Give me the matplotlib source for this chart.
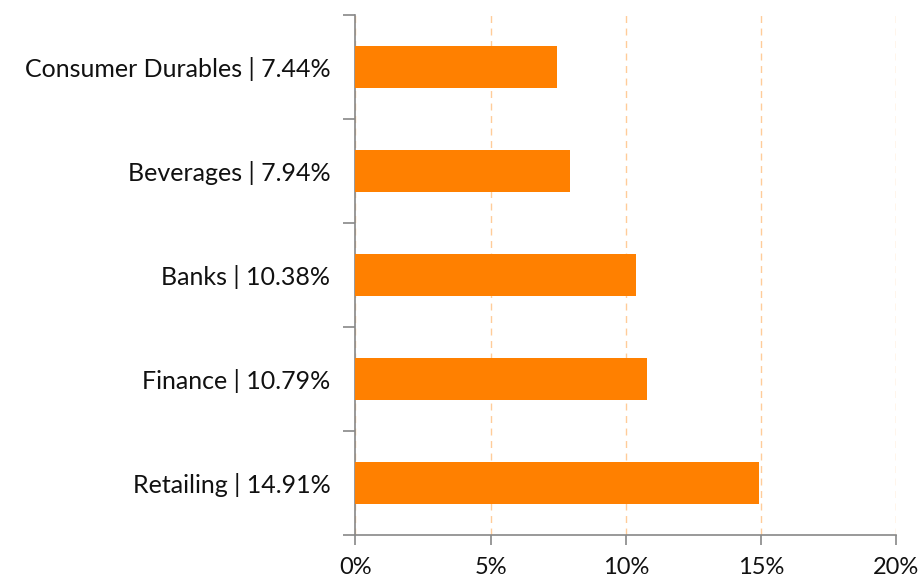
"""
Sector weights, horizontal bars
"""
from matplotlib import pyplot as plt, ticker

sectors = ['Retailing', 'Finance', 'Banks', 'Beverages', 'Consumer Durables']
weights = [14.91, 10.79, 10.38, 7.94, 7.44]
x_ticks = [0, 5, 10, 15, 20]

plt.rcParams['font.family'] = ['Lato', 'DejaVu Sans']

fig = plt.figure(figsize=(9.23, 5.85), dpi=100)
ax = fig.add_axes([0.385, 0.0855, 0.586, 0.889])

pos = range(len(sectors))
ax.barh(pos, weights, height=0.4, color='#ff8000', zorder=3)

labels = [f'{s} | {w:.2f}%' for s, w in zip(sectors, weights)]
ax.set_yticks(list(pos))
ax.set_yticklabels(labels)
ax.set_ylim(-0.5, len(sectors) - 0.5)
# ticks sit between categories
ax.yaxis.set_minor_locator(ticker.FixedLocator([i - 0.5 for i in range(len(sectors) + 1)]))
ax.tick_params(axis='y', which='major', length=0, pad=18, labelsize=18, labelcolor='#111111')
ax.tick_params(axis='y', which='minor', length=9, width=1.2, color='#888888')

ax.set_xlim(0, 20)
ax.set_xticks(x_ticks)
ax.xaxis.set_major_formatter(ticker.FuncFormatter(lambda v, _: f'{v:.0f}%'))
ax.tick_params(axis='x', length=7, width=1.2, color='#888888', labelsize=17, pad=9, labelcolor='#111111')

ax.grid(axis='x', color='#ffcc99', linestyle=(0, (5, 4)), linewidth=1, zorder=0)

for side in ['top', 'right']:
    ax.spines[side].set_visible(False)
for side in ['left', 'bottom']:
    ax.spines[side].set_color('#888888')
    ax.spines[side].set_linewidth(1.2)

plt.savefig('out.png')
